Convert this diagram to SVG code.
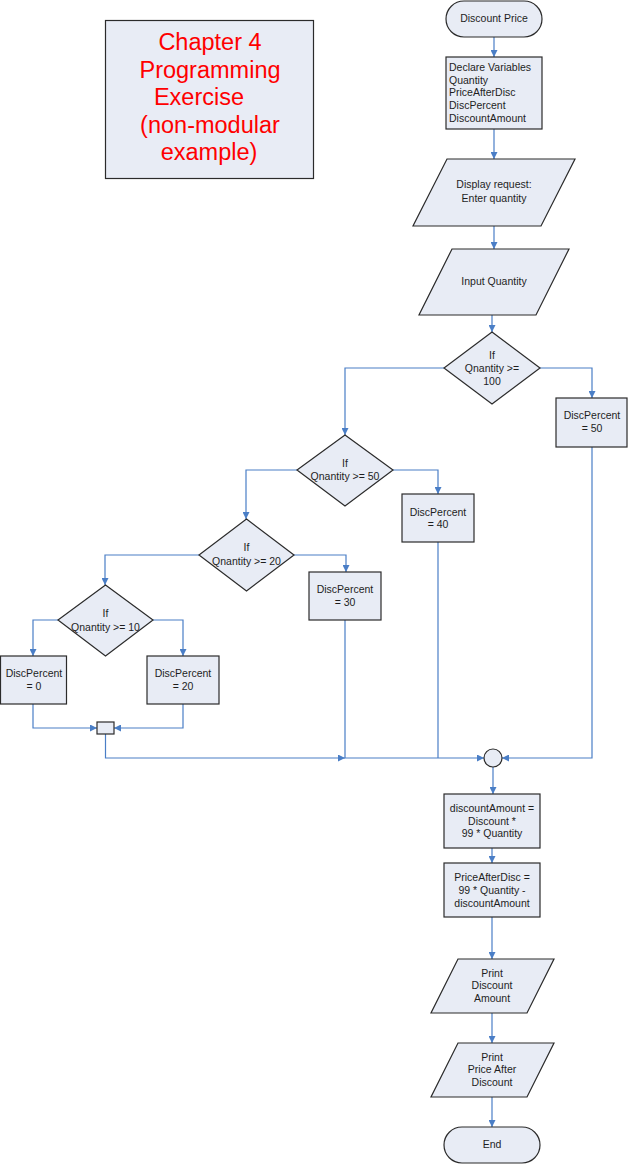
<svg xmlns="http://www.w3.org/2000/svg" width="628" height="1164" viewBox="0 0 628 1164">
<defs>
<marker id="ah" viewBox="0 0 10 10" refX="10" refY="5" markerWidth="7" markerHeight="7" markerUnits="userSpaceOnUse" orient="auto">
<path d="M0,0 L10,5 L0,10 z" fill="#4A7EC6"/>
</marker>
<style>
.s{fill:#E8ECF5;stroke:#2b2b2b;stroke-width:1.2}
.t{font-family:"Liberation Sans",Arial,sans-serif;font-size:10.5px;fill:#1e1e1e;text-anchor:middle}
.tl{font-family:"Liberation Sans",Arial,sans-serif;font-size:10.5px;fill:#1e1e1e}
.ti{font-family:"Liberation Sans",Arial,sans-serif;font-size:23.5px;fill:#FF0000;text-anchor:middle}
.c{fill:none;stroke:#4A7EC6;stroke-width:1.2}
.ca{fill:none;stroke:#4A7EC6;stroke-width:1.2;marker-end:url(#ah)}
</style>
</defs>
<rect width="628" height="1164" fill="#ffffff"/>

<g id="title">
<rect class="s" x="105.5" y="20.5" width="208" height="158"/>
<text class="ti" x="210" y="50">Chapter 4</text>
<text class="ti" x="210" y="78">Programming</text>
<text class="ti" x="199" y="105">Exercise</text>
<text class="ti" x="210" y="133">(non-modular</text>
<text class="ti" x="209" y="160">example)</text>
</g>

<g id="connectors">
<path class="ca" d="M494,37 V57"/>
<path class="ca" d="M494,129 V159"/>
<path class="ca" d="M494,226 V249"/>
<path class="ca" d="M492,315 V332"/>
<path class="ca" d="M444,368 H345 V435"/>
<path class="ca" d="M540,368 H592 V398"/>
<path class="ca" d="M393,470 H438 V494"/>
<path class="ca" d="M297,470 H246 V519"/>
<path class="ca" d="M294,555 H346 V572"/>
<path class="ca" d="M199,555 H105 V585"/>
<path class="ca" d="M58,620 H33 V656"/>
<path class="ca" d="M153,620 H183 V656"/>
<path class="ca" d="M33,704 V728 H97"/>
<path class="ca" d="M183,704 V728 H114"/>
<path class="ca" d="M105.5,734 V758 H345"/>
<path class="ca" d="M345,620 V758 H484"/>
<path class="c" d="M438,542 V758"/>
<path class="ca" d="M592,447 V758 H502"/>
<path class="ca" d="M493,767 V794"/>
<path class="ca" d="M492,848 V863"/>
<path class="ca" d="M492,917 V959"/>
<path class="ca" d="M492,1013 V1043"/>
<path class="ca" d="M492,1097 V1127"/>
</g>

<g id="start">
<rect class="s" x="446" y="1" width="96" height="36" rx="18"/>
<text class="t" x="494" y="22">Discount Price</text>
</g>

<g id="declare">
<rect class="s" x="446" y="57" width="96" height="72"/>
<text class="tl" x="449" y="71">Declare Variables</text>
<text class="tl" x="449" y="83.5">Quantity</text>
<text class="tl" x="449" y="96">PriceAfterDisc</text>
<text class="tl" x="449" y="109">DiscPercent</text>
<text class="tl" x="449" y="122">DiscountAmount</text>
</g>

<g id="display">
<polygon class="s" points="447,159 575,159 541,226 413,226"/>
<text class="t" x="494" y="188">Display request:</text>
<text class="t" x="494" y="202">Enter quantity</text>
</g>

<g id="input">
<polygon class="s" points="452,249 569,249 536,315 419,315"/>
<text class="t" x="494" y="285">Input Quantity</text>
</g>

<g id="if100">
<polygon class="s" points="492,332 540,368 492,404 444,368"/>
<text class="t" x="492" y="359">If</text>
<text class="t" x="492" y="372">Qnantity &gt;=</text>
<text class="t" x="492" y="385">100</text>
</g>

<g id="dp50">
<rect class="s" x="556" y="398" width="71" height="49"/>
<text class="t" x="592" y="419">DiscPercent</text>
<text class="t" x="592" y="432">= 50</text>
</g>

<g id="if50">
<polygon class="s" points="345,435 393,470 345,506 297,470"/>
<text class="t" x="345" y="467">If</text>
<text class="t" x="345" y="480">Qnantity &gt;= 50</text>
</g>

<g id="dp40">
<rect class="s" x="402" y="494" width="72" height="48"/>
<text class="t" x="438" y="516">DiscPercent</text>
<text class="t" x="438" y="528">= 40</text>
</g>

<g id="if20">
<polygon class="s" points="246.5,519 294,555 246.5,591 199,555"/>
<text class="t" x="246.5" y="551">If</text>
<text class="t" x="246.5" y="565">Qnantity &gt;= 20</text>
</g>

<g id="dp30">
<rect class="s" x="309" y="572" width="72" height="48"/>
<text class="t" x="345" y="593">DiscPercent</text>
<text class="t" x="345" y="606">= 30</text>
</g>

<g id="if10">
<polygon class="s" points="105.5,585 153,620 105.5,656 58,620"/>
<text class="t" x="105.5" y="617">If</text>
<text class="t" x="105.5" y="631">Qnantity &gt;= 10</text>
</g>

<g id="dp0">
<rect class="s" x="0.5" y="656" width="66" height="48"/>
<text class="t" x="34" y="677">DiscPercent</text>
<text class="t" x="34" y="690">= 0</text>
</g>

<g id="dp20">
<rect class="s" x="147" y="656" width="72" height="48"/>
<text class="t" x="183" y="677">DiscPercent</text>
<text class="t" x="183" y="690">= 20</text>
</g>

<g id="join1">
<rect class="s" x="97" y="722" width="17" height="12"/>
</g>

<g id="join2">
<circle class="s" cx="493" cy="758" r="9"/>
</g>

<g id="calcamount">
<rect class="s" x="444" y="794" width="96" height="54"/>
<text class="t" x="492" y="812">discountAmount =</text>
<text class="t" x="492" y="825">Discount *</text>
<text class="t" x="492" y="837">99 * Quantity</text>
</g>

<g id="calcprice">
<rect class="s" x="444" y="863" width="96" height="54"/>
<text class="t" x="492" y="881">PriceAfterDisc =</text>
<text class="t" x="492" y="894">99 * Quantity -</text>
<text class="t" x="492" y="907">discountAmount</text>
</g>

<g id="printamount">
<polygon class="s" points="458,959 554,959 527,1013 431,1013"/>
<text class="t" x="492" y="977">Print</text>
<text class="t" x="492" y="989">Discount</text>
<text class="t" x="492" y="1002">Amount</text>
</g>

<g id="printprice">
<polygon class="s" points="458,1043 554,1043 527,1097 431,1097"/>
<text class="t" x="492" y="1061">Print</text>
<text class="t" x="492" y="1073">Price After</text>
<text class="t" x="492" y="1086">Discount</text>
</g>

<g id="end">
<rect class="s" x="444" y="1127" width="96" height="36" rx="18"/>
<text class="t" x="492" y="1148">End</text>
</g>
</svg>
